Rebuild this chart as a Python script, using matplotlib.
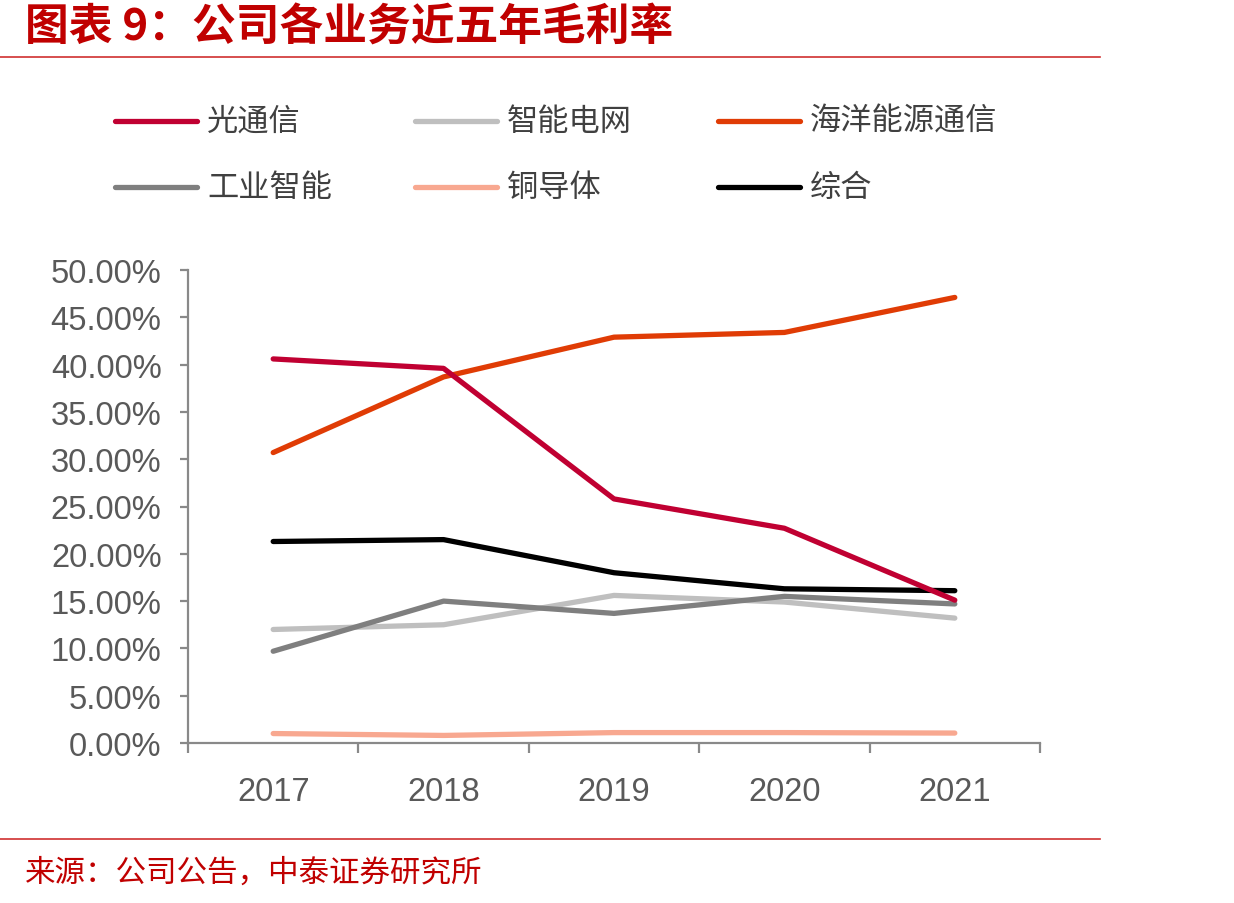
import matplotlib
matplotlib.use("Agg")
import matplotlib.pyplot as plt
from matplotlib.lines import Line2D

plt.rcParams['font.family'] = ['Noto Sans CJK SC', 'DejaVu Sans']

years = ['2017', '2018', '2019', '2020', '2021']
series_names = ['光通信', '智能电网', '海洋能源通信', '工业智能', '铜导体', '综合']
optical = [40.6, 39.6, 25.8, 22.7, 15.1]
smart_grid = [12.0, 12.5, 15.6, 14.9, 13.2]
ocean = [30.7, 38.7, 42.9, 43.4, 47.1]
industrial = [9.7, 15.0, 13.7, 15.5, 14.7]
copper = [1.0, 0.8, 1.1, 1.1, 1.05]
overall = [21.3, 21.5, 18.0, 16.3, 16.1]
y_ticks = [0, 5, 10, 15, 20, 25, 30, 35, 40, 45, 50]

colors = ['#c00032', '#bfbfbf', '#e03c05', '#7f7f7f', '#f8a890', '#000000']
data = [optical, smart_grid, ocean, industrial, copper, overall]

W, H = 1234, 904
fig = plt.figure(figsize=(W / 100, H / 100), dpi=100)
fig.patch.set_facecolor('white')

ax = fig.add_axes([188 / W, 1 - 744 / H, (1040 - 188) / W, (744 - 271) / H])
x = list(range(len(years)))
order = [4, 1, 3, 5, 2, 0]
for i in order:
    ax.plot(x, data[i], color=colors[i], lw=3.8, solid_capstyle='round',
            solid_joinstyle='round', zorder=3)

ax.set_xlim(-0.5, len(years) - 0.5)
ax.set_ylim(0, 50)
ax.set_yticks(y_ticks)
ax.set_yticklabels([f'{v:.2f}%' for v in y_ticks])
ax.set_xticks(x)
ax.set_xticklabels(years)
ax.set_xticks([i - 0.5 for i in range(len(years) + 1)], minor=True)

for s in ['top', 'right']:
    ax.spines[s].set_visible(False)
for s in ['left', 'bottom']:
    ax.spines[s].set_color('#898989')
    ax.spines[s].set_linewidth(1.6)

ax.tick_params(axis='y', which='major', length=6, width=1.6, color='#898989',
               labelsize=23.5, labelcolor='#595959', pad=13)
ax.tick_params(axis='x', which='major', length=0, labelsize=23.5,
               labelcolor='#595959', pad=24)
ax.tick_params(axis='x', which='minor', length=7, width=1.6, color='#898989')
for lab in ax.get_xticklabels() + ax.get_yticklabels():
    lab.set_family(['Liberation Sans', 'DejaVu Sans'])

# legend
leg_cols = [115, 415, 718]
leg_rows = [122, 188]
for k, name in enumerate(series_names):
    r, c = divmod(k, 3)
    x0 = leg_cols[c]
    y0 = 1 - leg_rows[r] / H
    fig.add_artist(Line2D([x0 / W, (x0 + 82) / W], [y0, y0], color=colors[k],
                          lw=3.8, solid_capstyle='round'))
    fig.text((x0 + 92) / W, y0, name, fontsize=22.5, color='#404040',
             va='center', ha='left')

# title
fig.text(25 / W, 1 - 28 / H, '图表 9：公司各业务近五年毛利率', fontsize=31.5,
         fontweight='bold', color='#c00000', va='center', ha='left')
fig.add_artist(Line2D([0, 1100 / W], [1 - 58 / H, 1 - 58 / H], color='#d03030', lw=1.2))
fig.add_artist(Line2D([0, 1100 / W], [1 - 840 / H, 1 - 840 / H], color='#d03030', lw=1.2))
fig.text(25 / W, 1 - 873 / H, '来源：公司公告，中泰证券研究所', fontsize=22,
         color='#c00000', va='center', ha='left')

fig.savefig('out.png', dpi=100, facecolor='white')
